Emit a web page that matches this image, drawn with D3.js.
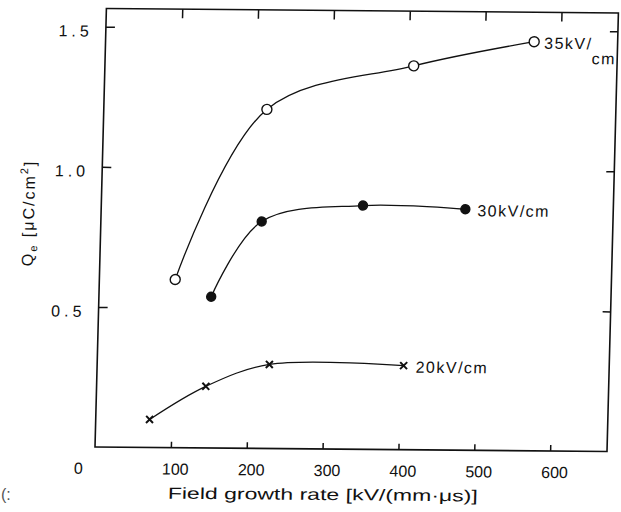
<!DOCTYPE html>
<html>
<head>
<meta charset="utf-8">
<script src="https://cdn.jsdelivr.net/npm/d3@7"></script>
<style>
    body { margin: 0; background: #fff; }
    svg text { font-family: 'Liberation Sans Narrow', 'Liberation Sans', sans-serif; fill: #111; }
</style>
</head>
<body>
<svg id="chart" width="621" height="512"></svg>
<script>
// values
const x35 = [100, 215, 407, 565];
const q35 = [0.60, 1.21, 1.37, 1.46];
const x30 = [148, 212, 345, 480];
const q30 = [0.54, 0.81, 0.87, 0.86];
const x20 = [71, 144, 227, 404];
const q20 = [0.10, 0.22, 0.30, 0.30];

const xTicks = [100, 200, 300, 400, 500, 600];
const yTicks = [0.5, 1.0, 1.5];
const yTickLabels = ["0.5", "1.0", "1.5"];

var svg = d3.select("#chart");

// the scan is slightly skewed, so the whole plot gets a small shear
var g = svg.append("g")
    .attr("transform", "matrix(1,0.0088,-0.026,1,11.62,-0.845)");

var plotLeft = 95, plotRight = 607, plotTop = 8.5, plotBottom = 447;

var x = d3.scaleLinear().domain([0, 675]).range([plotLeft, plotRight]);
var y = d3.scaleLinear().domain([0, 1.565]).range([plotBottom, plotTop]);

// frame
g.append("rect")
    .attr("x", plotLeft).attr("y", plotTop)
    .attr("width", plotRight - plotLeft).attr("height", plotBottom - plotTop)
    .attr("fill", "none").attr("stroke", "#111").attr("stroke-width", 1.6);

// inward ticks on all four sides
g.append("g").attr("transform", `translate(0,${plotBottom})`)
    .call(d3.axisTop(x).tickValues(xTicks).tickSize(6).tickFormat(""));
g.append("g").attr("transform", `translate(0,${plotTop})`)
    .call(d3.axisBottom(x).tickValues(xTicks).tickSize(9).tickFormat(""));
g.append("g").attr("transform", `translate(${plotLeft},0)`)
    .call(d3.axisRight(y).tickValues(yTicks).tickSize(9).tickFormat(""));
g.append("g").attr("transform", `translate(${plotRight},0)`)
    .call(d3.axisLeft(y).tickValues(yTicks).tickSize(8).tickFormat(""));
g.selectAll(".domain").remove();
g.selectAll(".tick line").attr("stroke", "#111").attr("stroke-width", 1.5);

// tick labels
g.selectAll(".xlab")
    .data(xTicks)
    .enter().append("text")
    .attr("x", d => x(d) + 5)
    .attr("y", 474)
    .attr("text-anchor", "middle")
    .style("font-size", "16px")
    .text(d => d);
g.append("text")
    .attr("x", 79).attr("y", 474)
    .attr("text-anchor", "middle")
    .style("font-size", "16px")
    .text("0");

g.selectAll(".ylab")
    .data(yTicks)
    .enter().append("text")
    .attr("x", 82)
    .attr("y", d => y(d) + 10)
    .attr("text-anchor", "end")
    .style("font-size", "16px")
    .style("letter-spacing", "4px")
    .text((d, i) => yTickLabels[i]);

// axis titles
g.append("text")
    .attr("x", 324).attr("y", 498)
    .attr("text-anchor", "middle")
    .attr("textLength", 310).attr("lengthAdjust", "spacingAndGlyphs")
    .style("font-size", "16px")
    .text("Field growth rate [kV/(mm·μs)]");

var ylab = g.append("text")
    .attr("transform", "translate(28,213.6) rotate(-90)")
    .attr("text-anchor", "middle")
    .style("font-size", "16px")
    .style("letter-spacing", "2px");
ylab.append("tspan").text("Q");
ylab.append("tspan").attr("dy", 4).style("font-size", "11px").text("e");
ylab.append("tspan").attr("dy", -4).text(" [μC/cm");
ylab.append("tspan").attr("dy", -7).style("font-size", "11px").text("2");
ylab.append("tspan").attr("dy", 7).text("]");

// fitted curves
var line = d3.line()
    .x(d => x(d[0]))
    .y(d => y(d[1]))
    .curve(d3.curveCatmullRom.alpha(0.5));

var series = [
    { xs: x35, qs: q35, mark: "open" },
    { xs: x30, qs: q30, mark: "dot" },
    { xs: x20, qs: q20, mark: "cross" }
];

series.forEach(function (s) {
    var pts = s.xs.map((v, i) => [v, s.qs[i]]);
    g.append("path")
        .datum(pts)
        .attr("d", line)
        .attr("fill", "none")
        .attr("stroke", "#111")
        .attr("stroke-width", 1.3);

    if (s.mark == "cross") {
        g.selectAll(null)
            .data(pts)
            .enter().append("path")
            .attr("d", d => {
                var cx = x(d[0]), cy = y(d[1]), r = 3.5;
                return `M${cx - r},${cy - r}L${cx + r},${cy + r}M${cx - r},${cy + r}L${cx + r},${cy - r}`;
            })
            .attr("stroke", "#111")
            .attr("stroke-width", 2);
    } else {
        g.selectAll(null)
            .data(pts)
            .enter().append("circle")
            .attr("cx", d => x(d[0]))
            .attr("cy", d => y(d[1]))
            .attr("r", s.mark == "open" ? 5 : 4.5)
            .attr("fill", s.mark == "open" ? "#fff" : "#111")
            .attr("stroke", "#111")
            .attr("stroke-width", 1.4);
    }
});

// series labels at the last point of each curve
var lab35 = g.append("text")
    .attr("x", x(x35[3]) + 10).attr("y", y(q35[3]) + 7)
    .style("font-size", "16px").style("letter-spacing", "1.5px");
lab35.append("tspan").text("35kV/");
lab35.append("tspan").attr("x", x(x35[3]) + 58).attr("dy", 15).text("cm");

g.append("text")
    .attr("x", x(x30[3]) + 12).attr("y", y(q30[3]) + 7)
    .style("font-size", "16px").style("letter-spacing", "1.5px")
    .text("30kV/cm");

g.append("text")
    .attr("x", x(x20[3]) + 12).attr("y", y(q20[3]) + 7)
    .style("font-size", "16px").style("letter-spacing", "1.5px")
    .text("20kV/cm");

// scan speck in the lower left corner
svg.append("text")
    .attr("x", 1).attr("y", 500)
    .style("font-size", "16px")
    .style("fill", "#555")
    .text("(:");
</script>
</body>
</html>
